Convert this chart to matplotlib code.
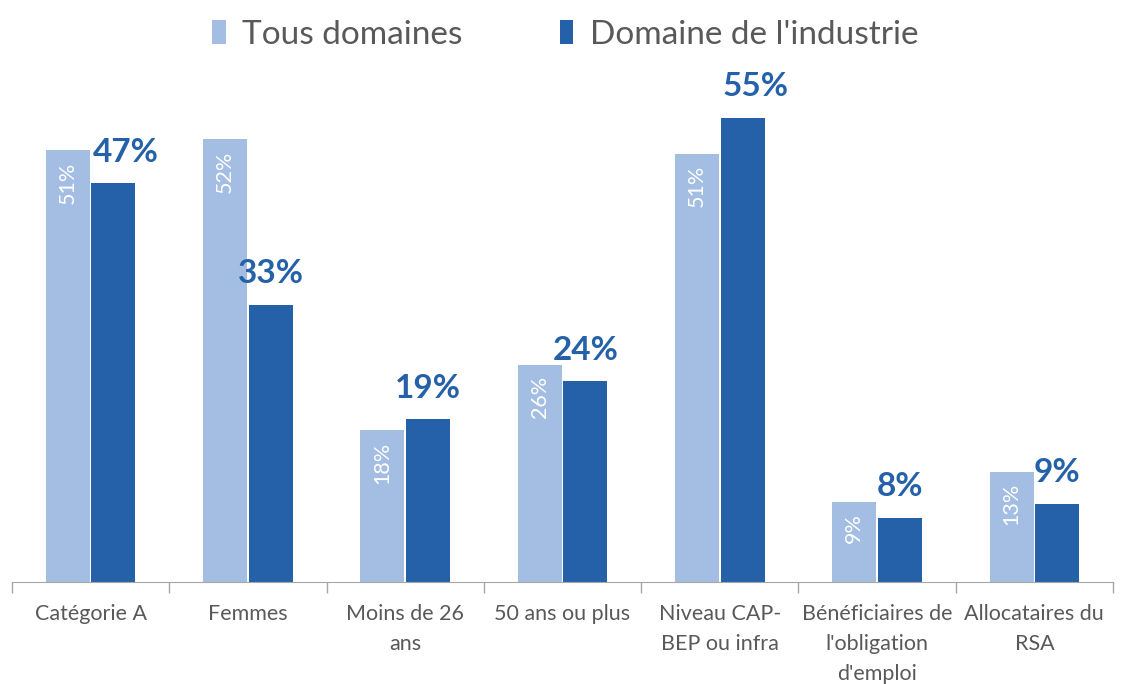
import matplotlib.pyplot as plt
import numpy as np

categories = ["Catégorie A", "Femmes", "Moins de 26\nans", "50 ans ou plus",
              "Niveau CAP-\nBEP ou infra", "Bénéficiaires de\nl'obligation\nd'emploi",
              "Allocataires du\nRSA"]
tous = [51.0, 52.3, 17.9, 25.6, 50.6, 9.4, 13.0]
industrie = [47.1, 32.7, 19.2, 23.7, 54.8, 7.6, 9.2]
series_names = ["Tous domaines", "Domaine de l'industrie"]

light = "#A3BEE2"
dark = "#2561A8"
grey = "#595959"

plt.rcParams["font.family"] = ["Lato", "DejaVu Sans"]

fig = plt.figure(figsize=(11.26, 6.84), dpi=100)
ax = fig.add_axes([12 / 1126, 102 / 684, 1101 / 1126, 508 / 684])

x = np.arange(len(categories))
w = 0.28
b1 = ax.bar(x - 0.145, tous, w, color=light, label=series_names[0])
b2 = ax.bar(x + 0.145, industrie, w, color=dark, label=series_names[1])

# labels inside the light bars
for rect, v in zip(b1, tous):
    ax.annotate(f"{v:.0f}%", (rect.get_x() + rect.get_width() / 2, rect.get_height()),
                xytext=(0, -8), textcoords="offset points", rotation=90,
                ha="center", va="top", color="white", fontsize=15.5)

# bold labels above the dark bars (two are nudged right like in the source)
nudge = [9, 0, 0, 0, 9, 0, 0]
for rect, v, dx in zip(b2, industrie, nudge):
    ax.annotate(f"{v:.0f}%", (rect.get_x() + rect.get_width() / 2, rect.get_height()),
                xytext=(dx, 12), textcoords="offset points",
                ha="center", va="bottom", color=dark, fontsize=24, fontweight="bold")

ax.set_xlim(-0.5, len(categories) - 0.5)
ax.set_ylim(0, 60)
ax.set_yticks([])
ax.set_xticks(x)
ax.set_xticklabels(categories, color=grey, fontsize=15.5, linespacing=1.62, va="top")
ax.tick_params(axis="x", which="major", length=0, pad=16)
ax.set_xticks(np.arange(len(categories) + 1) - 0.5, minor=True)
ax.tick_params(axis="x", which="minor", length=8, color="#A6A6A6", width=1)
for s in ["top", "left", "right"]:
    ax.spines[s].set_visible(False)
ax.spines["bottom"].set_color("#A6A6A6")

leg = fig.legend(loc="upper center", bbox_to_anchor=(0.502, 1.015), ncol=2, frameon=False,
                 fontsize=24, handlelength=0.4, handleheight=0.75, handletextpad=0.5,
                 columnspacing=2.9)
for t in leg.get_texts():
    t.set_color(grey)

fig.savefig("out.png", dpi=100)
